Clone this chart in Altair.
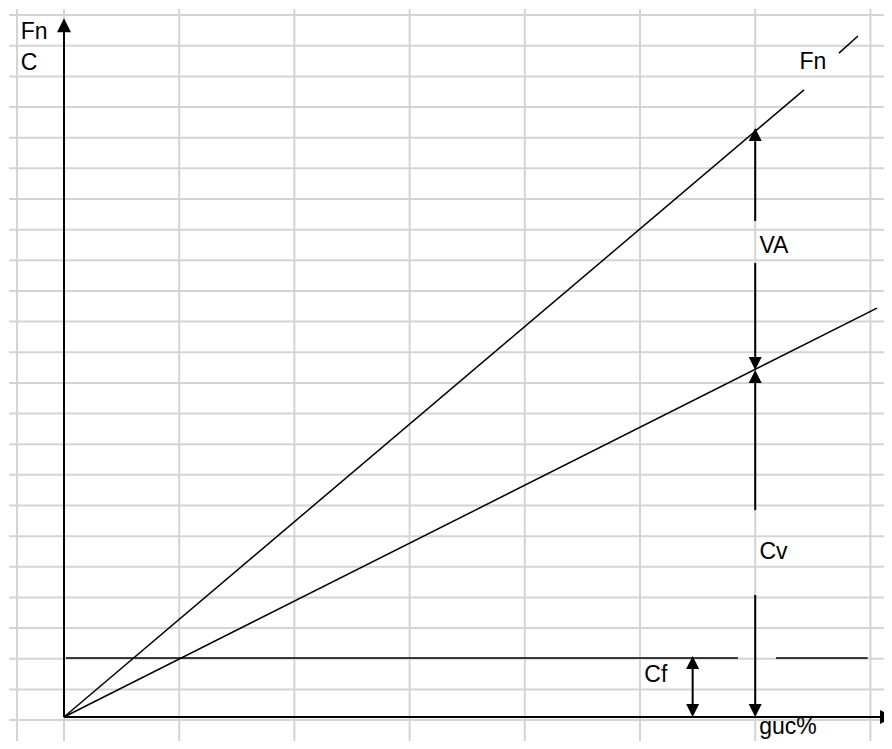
import altair as alt
import pandas as pd

# ---- plot geometry (view size and data domains) ----
W, H = 876, 733
X_DOMAIN = [-0.4861, 7.118]
Y_DOMAIN = [-0.783, 23.132]

# ---- background spreadsheet grid ----
grid_cols = [-0.408, 0, 1, 2, 3, 4, 5, 6, 7]
grid_col_top = 23.1
grid_rows = [-0.1, 0.9, 1.9, 2.9, 3.9, 4.9, 5.9, 6.9, 7.9, 8.9, 9.9, 10.9,
             11.9, 12.9, 13.9, 14.9, 15.9, 16.9, 17.9, 18.9, 19.9, 20.9,
             21.9, 22.9]
grid_row_left = -0.477

# ---- line segments: axes, Fn line, C line, Cf line, arrows ----
seg_name = ["y_axis", "x_axis", "Fn", "Fn_tail", "C", "Cf_a", "Cf_b",
            "Cf_arrow", "VA_top", "VA_bottom", "Cv_top", "Cv_bottom"]
seg_x1 = [0, 0, 0, 6.727, 0, 0.017, 6.18, 5.457, 6.0, 6.0, 6.0, 6.0]
seg_y1 = [0, 0, 0, 21.66, 0, 1.925, 1.925, 1.566, 18.79, 14.81, 10.90, 3.98]
seg_x2 = [0, 7.083, 6.424, 6.892, 7.057, 5.85, 6.976, 5.457, 6.0, 6.0, 6.0, 6.0]
seg_y2 = [22.35, 0, 20.46, 22.22, 13.34, 1.925, 1.925, 0.424, 16.18, 11.75, 6.75, 0.42]
seg_w = [2, 2, 1.5, 1.5, 1.5, 1.5, 1.5, 2, 2, 2, 2, 2]

# ---- arrow heads (tip positions) ----
head_x = [0, 7.205, 6.0, 6.0, 6.0, 6.0, 5.457, 5.457]
head_y = [22.8, 0, 19.22, 11.32, 11.32, 0, 1.99, 0]
head_dir = ["up", "right", "up", "down", "up", "down", "up", "down"]
head_px = [14, 14, 13, 13, 13, 13, 13, 13]

# ---- labels ----
lab_text = ["Fn", "C", "Fn", "VA", "Cv", "Cf", "guc%"]
lab_x = [-0.375, -0.375, 6.385, 6.037, 6.037, 5.037, 6.035]
lab_y = [22.35, 21.34, 21.38, 15.37, 5.39, 1.37, -0.33]

UP = "M0,0L-0.5,1L0.5,1Z"
DOWN = "M0,0L-0.5,-1L0.5,-1Z"
RIGHT = "M0,0L-1,-0.5L-1,0.5Z"

xs = alt.Scale(domain=X_DOMAIN, nice=False, zero=False)
ys = alt.Scale(domain=Y_DOMAIN, nice=False, zero=False)

vgrid = pd.DataFrame({"x": grid_cols, "y": [grid_col_top] * len(grid_cols),
                      "y2": [Y_DOMAIN[0]] * len(grid_cols)})
hgrid = pd.DataFrame({"y": grid_rows, "x": [grid_row_left] * len(grid_rows),
                      "x2": [X_DOMAIN[1]] * len(grid_rows)})
segs = pd.DataFrame({"name": seg_name, "x": seg_x1, "y": seg_y1,
                     "x2": seg_x2, "y2": seg_y2, "w": seg_w})
heads = pd.DataFrame({"x": head_x, "y": head_y, "dir": head_dir,
                      "size": [(2 * p) ** 2 for p in head_px]})
labs = pd.DataFrame({"t": lab_text, "x": lab_x, "y": lab_y})

GRID = "#d4d4d4"

vg = alt.Chart(vgrid).mark_rule(color=GRID, strokeWidth=2).encode(
    x=alt.X("x:Q", scale=xs, axis=None),
    y=alt.Y("y:Q", scale=ys, axis=None),
    y2="y2:Q",
)
hg = alt.Chart(hgrid).mark_rule(color=GRID, strokeWidth=2).encode(
    x=alt.X("x:Q", scale=xs, axis=None),
    x2="x2:Q",
    y=alt.Y("y:Q", scale=ys, axis=None),
)
sg = alt.Chart(segs).mark_rule(color="black").encode(
    x=alt.X("x:Q", scale=xs, axis=None),
    x2="x2:Q",
    y=alt.Y("y:Q", scale=ys, axis=None),
    y2="y2:Q",
    strokeWidth=alt.StrokeWidth("w:Q", scale=None),
)
hd = alt.Chart(heads).mark_point(filled=True, color="black", opacity=1,
                                 strokeWidth=0).encode(
    x=alt.X("x:Q", scale=xs, axis=None),
    y=alt.Y("y:Q", scale=ys, axis=None),
    shape=alt.Shape("dir:N", scale=alt.Scale(domain=["up", "down", "right"],
                                             range=[UP, DOWN, RIGHT]),
                    legend=None),
    size=alt.Size("size:Q", scale=None),
)
tx = alt.Chart(labs).mark_text(align="left", baseline="middle",
                               font="Liberation Sans", fontSize=23,
                               color="black").encode(
    x=alt.X("x:Q", scale=xs, axis=None),
    y=alt.Y("y:Q", scale=ys, axis=None),
    text="t:N",
)

chart = alt.layer(vg, hg, sg, hd, tx).properties(
    width=W, height=H, padding=0,
    autosize=alt.AutoSizeParams(type="none"),
).configure_view(stroke=None)

chart.save("out.html", embed_options={"renderer": "svg", "actions": False})
